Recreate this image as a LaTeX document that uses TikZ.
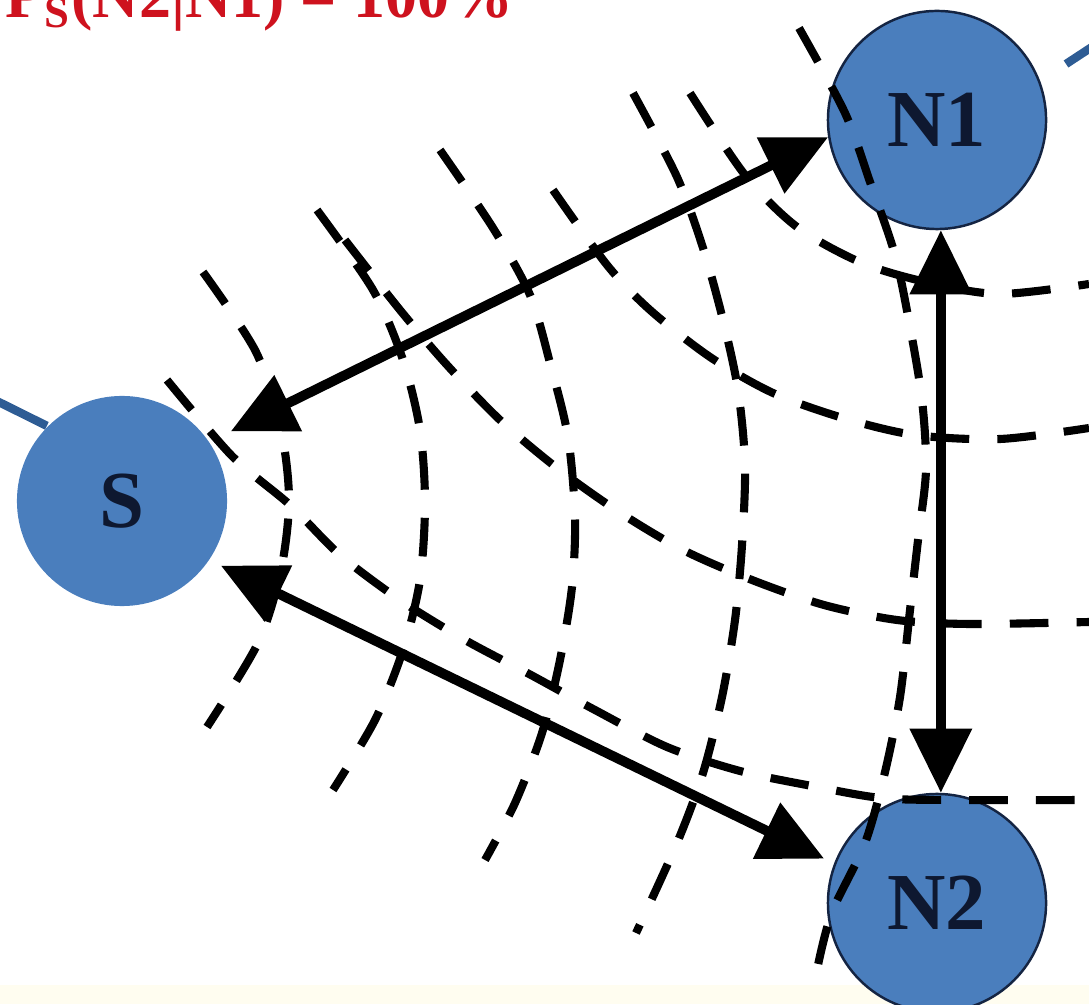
\documentclass[tikz,border=0pt]{standalone}
\usepackage{fontspec}
\setmainfont{Liberation Serif}
\usetikzlibrary{arrows.meta}

\definecolor{nodeblue}{RGB}{74,126,189}
\definecolor{nodeedge}{RGB}{20,36,66}
\definecolor{labelnavy}{RGB}{14,24,48}
\definecolor{probred}{RGB}{206,18,30}
\definecolor{feedblue}{RGB}{46,92,148}
\definecolor{cream}{RGB}{255,253,240}

\begin{document}
\begin{tikzpicture}[
  x=0.01cm, y=-0.01cm,
  station/.style={circle, fill=nodeblue, draw=nodeedge, line width=0.7pt, minimum size=2.18cm,
                  inner sep=0pt, font=\fontsize{23}{23}\selectfont\bfseries, text=labelnavy},
  link/.style={{Triangle[length=6.4mm,width=6mm]}-{Triangle[length=6.4mm,width=6mm]}, line width=2.8pt},
  wave/.style={dash pattern=on 11pt off 8pt, line width=2.3pt},
  feed/.style={feedblue, line width=2.4pt},
]
  \useasboundingbox (0,0) rectangle (1089,1004);
  \fill[cream] (0,985) rectangle (1089,1004);

  \node[anchor=base west, inner sep=0pt, text=probred, font=\fontsize{18.2}{18.2}\selectfont\bfseries]
    (prob) at (5,18) {P\textsubscript{S}(N2|N1) = 100\%};

  \node[station, draw=none, minimum size=2.1cm] (S) at (122,501) {S};
  \node[station] (N1) at (937,120) {N1};
  \node[station] (N2) at (937,903) {N2};

  % lines coming in from outside the view
  \coordinate (inS) at (-100,353);
  \coordinate (stubN1) at (1066,64);
  \coordinate (outN1) at (1130,22);
  \draw[feed] (inS) -- (S.135);
  \draw[feed] (stubN1) -- (outN1);

  % wavefronts around S
  \draw[wave] plot[smooth] coordinates {(203,272) (256,352) (281,430) (289,500) (281,570) (258,643) (207,727)};
  \draw[wave] plot[smooth] coordinates {(317,210) (373,290) (403,360) (420,430) (425,503) (420,580) (403,650) (375,720) (333,790)};
  \draw[wave] plot[smooth] coordinates {(440,150) (493,228) (530,295) (550,363) (568,437) (575,517) (572,587) (560,660) (542,733) (515,803) (485,860)};
  \draw[wave] plot[smooth] coordinates {(633,93) (677,177) (703,248) (723,320) (738,390) (745,465) (742,545) (735,620) (722,697) (703,773) (677,843) (636,933)};
  \draw[wave] plot[smooth] coordinates {(799,28) (845,113) (870,182) (895,255) (910,327) (922,400) (926,470) (918,540) (910,610) (900,697) (885,772) (865,843) (832,912) (818,965)};

  % wavefronts from above
  \draw[wave] plot[smooth] coordinates {(690,93) (745,175) (797,227) (862,263) (930,283) (1000,294) (1089,284)};
  \draw[wave] plot[smooth] coordinates {(553,190) (607,265) (650,310) (710,357) (773,393) (843,418) (915,435) (1000,439) (1089,428)};
  \draw[wave] plot[smooth] coordinates {(345,240) (400,310) (447,365) (500,420) (557,468) (619,512) (683,550) (752,580) (824,605) (897,620) (970,624) (1089,622)};
  \draw[wave] plot[smooth] coordinates {(167,380) (232,456) (290,505) (340,555) (400,600) (465,640) (531,675) (595,710) (667,747) (740,771) (812,786) (881,798) (950,800) (1089,800)};

  \draw[link, shorten <=2.3mm] (S.34) -- (N1.189);
  \draw[link, shorten <=1.2mm, shorten >=1.1mm] (S.-34) -- (N2.159);
  \draw[link] (N1.272) -- (N2.88);
\end{tikzpicture}
\end{document}
